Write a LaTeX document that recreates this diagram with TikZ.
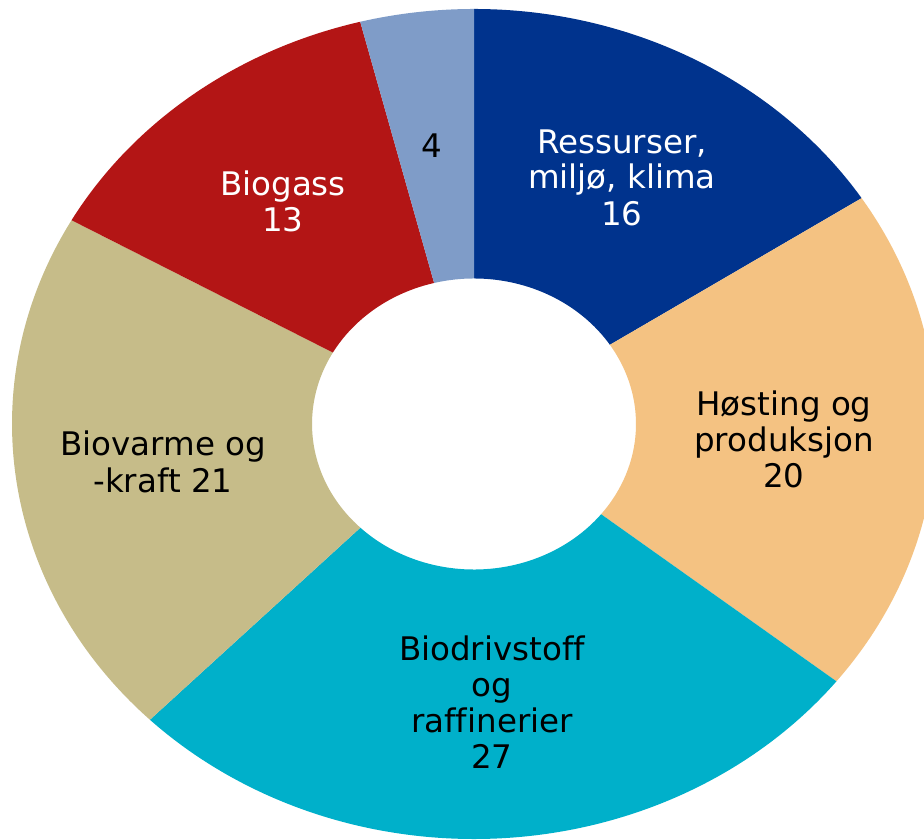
\documentclass[tikz,border=0pt]{standalone}
\usepackage{fontspec}
\setmainfont[Ligatures=NoCommon]{DejaVu Sans}
\definecolor{cRes}{HTML}{00338D}
\definecolor{cHos}{HTML}{F4C282}
\definecolor{cBio}{HTML}{00B0CA}
\definecolor{cVar}{HTML}{C6BC89}
\definecolor{cGas}{HTML}{B31515}
\definecolor{cOth}{HTML}{7F9CC8}
\tikzset{
  lbl/.style={font=\fontsize{32.5}{36}\selectfont, align=center, inner sep=0pt, anchor=base},
}
\begin{document}
\begin{tikzpicture}[x=1pt,y=-1pt]
\useasboundingbox (0,0) rectangle (924,840);
\clip (0,0) rectangle (924,840);
\fill[white] (0,0) rectangle (924,840);
\coordinate (c) at (474,424);
\begin{scope}[shift={(c)}, yscale=-0.8983]
  \foreach \a/\b/\col in {90/32.97/cRes, 32.97/-38.32/cHos, -38.32/-134.55/cBio, -134.55/-209.41/cVar, -209.41/-255.74/cGas, -255.74/-270/cOth}{
    \fill[\col] (\a:462) arc[start angle=\a, end angle=\b, radius=462]
      -- (\b:162) arc[start angle=\b, end angle=\a, radius=162] -- cycle;
  }
\end{scope}
\node[lbl, text=white] (res) at (622,225) {Ressurser,\\miljø, klima\\16};
\node[lbl] (hos) at (784,487) {Høsting og\\produksjon\\20};
\node[lbl] (bio) at (492,768) {Biodrivstoff\\og\\raffinerier\\27};
\node[lbl, font=\fontsize{32.5}{37}\selectfont] (var) at (163,492) {Biovarme og\\-kraft 21};
\node[lbl, text=white] (gas) at (283,231) {Biogass\\13};
\node[lbl] (oth) at (432,158) {4};
\end{tikzpicture}
\end{document}
